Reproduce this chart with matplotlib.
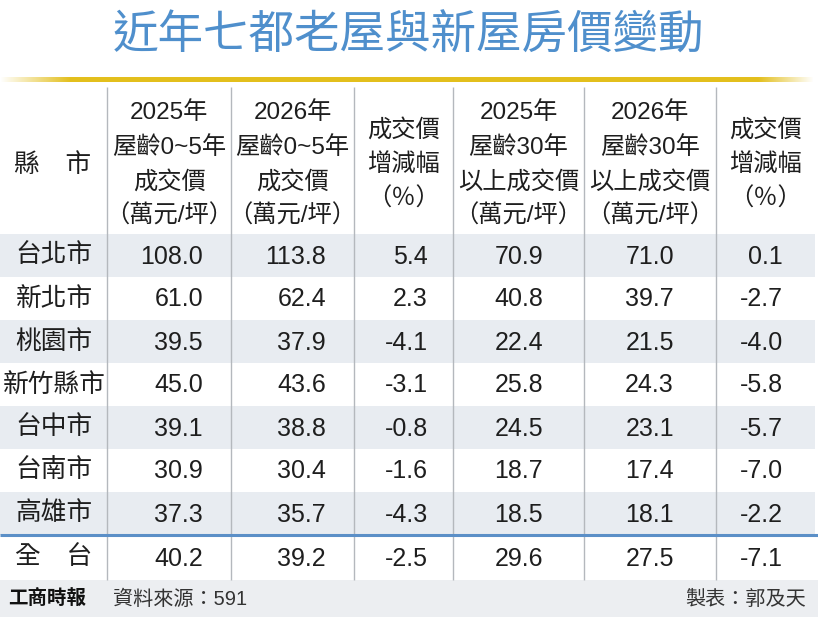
import numpy as np
import matplotlib
matplotlib.use("Agg")
import matplotlib.pyplot as plt
from matplotlib.patches import Rectangle

# ---------------- data ----------------
title = "近年七都老屋與新屋房價變動"
cities = ["台北市", "新北市", "桃園市", "新竹縣市", "台中市", "台南市", "高雄市"]
new_2025 = [108.0, 61.0, 39.5, 45.0, 39.1, 30.9, 37.3]
new_2026 = [113.8, 62.4, 37.9, 43.6, 38.8, 30.4, 35.7]
new_chg = [5.4, 2.3, -4.1, -3.1, -0.8, -1.6, -4.3]
old_2025 = [70.9, 40.8, 22.4, 25.8, 24.5, 18.7, 18.5]
old_2026 = [71.0, 39.7, 21.5, 24.3, 23.1, 17.4, 18.1]
old_chg = [0.1, -2.7, -4.0, -5.8, -5.7, -7.0, -2.2]
total_label = "全　台"
total_values = [40.2, 39.2, -2.5, 29.6, 27.5, -7.1]
headers = [
    ["縣　市"],
    ["2025年", "屋齡0~5年", "成交價", "（萬元/坪）"],
    ["2026年", "屋齡0~5年", "成交價", "（萬元/坪）"],
    ["成交價", "增減幅", "（％）"],
    ["2025年", "屋齡30年", "以上成交價", "（萬元/坪）"],
    ["2026年", "屋齡30年", "以上成交價", "（萬元/坪）"],
    ["成交價", "增減幅", "（％）"],
]
source_text = "資料來源：591"
maker_text = "製表：郭及天"
logo_text = "工商時報"

# ---------------- layout ----------------
W, H = 818, 617
col_edges = [0, 107, 231, 354, 453, 584, 716, 815]
num_right = [203, 326, 428, 543, 674, 783]
header_top, header_bottom = 87, 234
row_h = 43
total_top, total_bottom = 535, 580
footer_bottom = 617

FAM = ["Liberation Sans", "Noto Sans CJK TC", "DejaVu Sans"]
CJK = ["Noto Sans CJK TC", "DejaVu Sans"]
TXT = "#1e1e1e"
ROW_BG = "#e8ecf1"

fig = plt.figure(figsize=(W / 100, H / 100), dpi=100)
ax = fig.add_axes([0, 0, 1, 1])
ax.set_xlim(0, W)
ax.set_ylim(H, 0)
ax.axis("off")

# title
ax.text(W / 2 - 1, 35, title, ha="center", va="center", fontsize=32.8,
        color="#4f8fcc", family=CJK)

# yellow gradient rule
n = 818
xs = np.arange(n)
alpha = np.clip(np.minimum(xs / 70.0, (813 - xs) / 55.0), 0, 1)
grad = np.zeros((1, n, 4))
grad[..., 0] = 0xe3 / 255
grad[..., 1] = 0xbf / 255
grad[..., 2] = 0x1c / 255
grad[..., 3] = alpha
ax.imshow(grad, extent=[0, W, 82, 77], aspect="auto", zorder=2,
          interpolation="bilinear")

# row backgrounds
nrows = len(cities)
for i in range(nrows):
    top = header_bottom + i * row_h
    if i % 2 == 0:
        ax.add_patch(Rectangle((0, top), col_edges[-1], row_h,
                               facecolor=ROW_BG, edgecolor="none", zorder=1))
# footer background
ax.add_patch(Rectangle((0, total_bottom), W, footer_bottom - total_bottom,
                       facecolor="#eceef1", edgecolor="none", zorder=1))

# vertical dividers
for x in col_edges[1:-1]:
    ax.plot([x, x], [header_top, total_bottom], color="#b4b8bd", lw=1.0,
            zorder=3, solid_capstyle="butt")

# blue separator above total
ax.plot([0, W], [total_top, total_top], color="#5b8fc7", lw=2.2, zorder=4,
        solid_capstyle="butt")

# headers
line_gap = 34.5
hdr_center = (header_top + header_bottom) / 2 + 4
for c, lines in enumerate(headers):
    cx = (col_edges[c] + col_edges[c + 1]) / 2
    k = len(lines)
    for j, ln in enumerate(lines):
        y = hdr_center + (j - (k - 1) / 2) * line_gap
        if c == 0:
            ax.text(cx - 1, y, ln, ha="center", va="center", fontsize=18.5,
                    color=TXT, family=CJK)
        else:
            ax.text(cx, y, ln, ha="center", va="center", fontsize=17.5,
                    color=TXT, family=FAM)

# data rows
columns = [new_2025, new_2026, new_chg, old_2025, old_2026, old_chg]
for i in range(nrows):
    cy = header_bottom + i * row_h + row_h / 2
    ax.text(54, cy, cities[i], ha="center", va="center", fontsize=18.5,
            color=TXT, family=CJK)
    for c, col in enumerate(columns):
        ax.text(num_right[c], cy + 1, f"{col[i]:.1f}", ha="right", va="center",
                fontsize=18, color=TXT, family=FAM)

# total row
cy = (total_top + total_bottom) / 2
ax.text(54, cy, total_label, ha="center", va="center", fontsize=18.5,
        color=TXT, family=CJK)
for c, v in enumerate(total_values):
    ax.text(num_right[c], cy + 1, f"{v:.1f}", ha="right", va="center",
            fontsize=18, color=TXT, family=FAM)

# footer
fy = 599
ax.text(8, fy, logo_text, ha="left", va="center", fontsize=14,
        fontweight="bold", color="#111111", family=CJK)
ax.text(113, fy, source_text, ha="left", va="center", fontsize=14.5,
        color="#333333", family=FAM)
ax.text(806, fy, maker_text, ha="right", va="center", fontsize=14.5,
        color="#333333", family=FAM)

fig.savefig("out.png", dpi=100, facecolor="white")
